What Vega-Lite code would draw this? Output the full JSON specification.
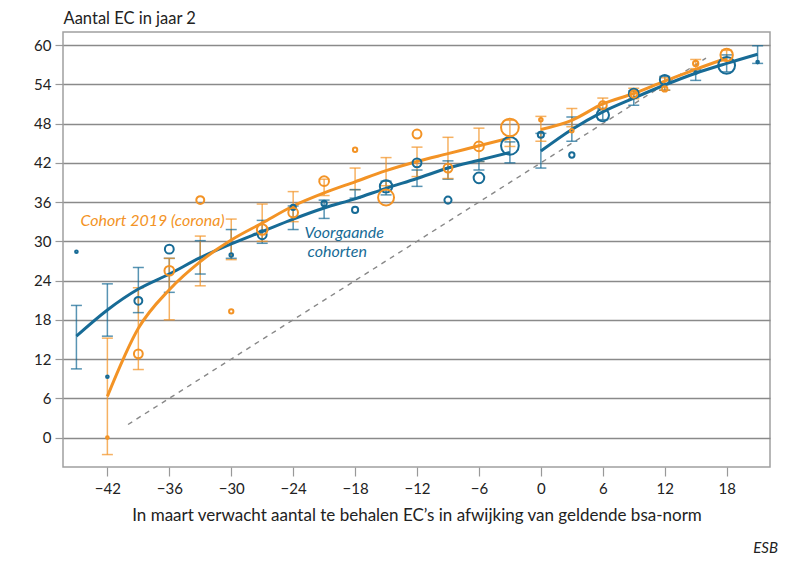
{
  "$schema": "https://vega.github.io/schema/vega-lite/v6.json",
  "width": 707,
  "height": 435,
  "autosize": "none",
  "padding": {"left": 63, "top": 32, "right": 23, "bottom": 100},
  "background": "white",
  "config": {
    "font": "Lato",
    "view": {"stroke": "#a0a0a0", "strokeWidth": 1.5}
  },
  "title": {"text": "ESB", "orient": "bottom", "anchor": "end", "fontStyle": "italic", "fontWeight": "normal", "fontSize": 15, "color": "#222", "offset": 18, "dx": 8},
  "datasets": {
    "lijn": [
      {"x": -45, "y": 15.5, "reeks": "voorgaand", "deel": "v1"},
      {"x": -42, "y": 19.5, "reeks": "voorgaand", "deel": "v1"},
      {"x": -39, "y": 22.7, "reeks": "voorgaand", "deel": "v1"},
      {"x": -36, "y": 25.0, "reeks": "voorgaand", "deel": "v1"},
      {"x": -33, "y": 27.5, "reeks": "voorgaand", "deel": "v1"},
      {"x": -30, "y": 29.6, "reeks": "voorgaand", "deel": "v1"},
      {"x": -27, "y": 31.5, "reeks": "voorgaand", "deel": "v1"},
      {"x": -24, "y": 33.4, "reeks": "voorgaand", "deel": "v1"},
      {"x": -21, "y": 35.1, "reeks": "voorgaand", "deel": "v1"},
      {"x": -18, "y": 36.5, "reeks": "voorgaand", "deel": "v1"},
      {"x": -15, "y": 38.1, "reeks": "voorgaand", "deel": "v1"},
      {"x": -12, "y": 39.6, "reeks": "voorgaand", "deel": "v1"},
      {"x": -9, "y": 41.2, "reeks": "voorgaand", "deel": "v1"},
      {"x": -6, "y": 42.4, "reeks": "voorgaand", "deel": "v1"},
      {"x": -3, "y": 43.6, "reeks": "voorgaand", "deel": "v1"},
      {"x": 0, "y": 43.8, "reeks": "voorgaand", "deel": "v2"},
      {"x": 3, "y": 47.1, "reeks": "voorgaand", "deel": "v2"},
      {"x": 6, "y": 49.8, "reeks": "voorgaand", "deel": "v2"},
      {"x": 9, "y": 51.9, "reeks": "voorgaand", "deel": "v2"},
      {"x": 12, "y": 53.9, "reeks": "voorgaand", "deel": "v2"},
      {"x": 15, "y": 55.7, "reeks": "voorgaand", "deel": "v2"},
      {"x": 18, "y": 57.2, "reeks": "voorgaand", "deel": "v2"},
      {"x": 21, "y": 58.6, "reeks": "voorgaand", "deel": "v2"},
      {"x": -42, "y": 6.3, "reeks": "corona", "deel": "c1"},
      {"x": -39, "y": 16.7, "reeks": "corona", "deel": "c1"},
      {"x": -36, "y": 22.6, "reeks": "corona", "deel": "c1"},
      {"x": -33, "y": 26.9, "reeks": "corona", "deel": "c1"},
      {"x": -30, "y": 30.2, "reeks": "corona", "deel": "c1"},
      {"x": -27, "y": 32.8, "reeks": "corona", "deel": "c1"},
      {"x": -24, "y": 35.4, "reeks": "corona", "deel": "c1"},
      {"x": -21, "y": 37.4, "reeks": "corona", "deel": "c1"},
      {"x": -18, "y": 39.1, "reeks": "corona", "deel": "c1"},
      {"x": -15, "y": 40.8, "reeks": "corona", "deel": "c1"},
      {"x": -12, "y": 42.2, "reeks": "corona", "deel": "c1"},
      {"x": -9, "y": 43.4, "reeks": "corona", "deel": "c1"},
      {"x": -6, "y": 44.6, "reeks": "corona", "deel": "c1"},
      {"x": -3, "y": 45.8, "reeks": "corona", "deel": "c1"},
      {"x": 0, "y": 47.1, "reeks": "corona", "deel": "c2"},
      {"x": 3, "y": 48.5, "reeks": "corona", "deel": "c2"},
      {"x": 6, "y": 51.0, "reeks": "corona", "deel": "c2"},
      {"x": 9, "y": 52.6, "reeks": "corona", "deel": "c2"},
      {"x": 12, "y": 54.5, "reeks": "corona", "deel": "c2"},
      {"x": 15, "y": 56.3, "reeks": "corona", "deel": "c2"},
      {"x": 18, "y": 58.0, "reeks": "corona", "deel": "c2"}
    ],
    "punten": [
      {"x": -45, "y": 28.4, "aantal": 2.25, "reeks": "voorgaand"},
      {"x": -42, "y": 9.3, "aantal": 2.25, "reeks": "voorgaand"},
      {"x": -39, "y": 20.9, "aantal": 20, "reeks": "voorgaand"},
      {"x": -36, "y": 28.8, "aantal": 25, "reeks": "voorgaand"},
      {"x": -30, "y": 27.9, "aantal": 4, "reeks": "voorgaand"},
      {"x": -27, "y": 31.0, "aantal": 25, "reeks": "voorgaand"},
      {"x": -24, "y": 35.2, "aantal": 9, "reeks": "voorgaand"},
      {"x": -21, "y": 35.8, "aantal": 9, "reeks": "voorgaand"},
      {"x": -18, "y": 34.8, "aantal": 12, "reeks": "voorgaand"},
      {"x": -15, "y": 38.4, "aantal": 49, "reeks": "voorgaand"},
      {"x": -12, "y": 42.0, "aantal": 25, "reeks": "voorgaand"},
      {"x": -9, "y": 36.3, "aantal": 16, "reeks": "voorgaand"},
      {"x": -6, "y": 39.7, "aantal": 36, "reeks": "voorgaand"},
      {"x": -3, "y": 44.6, "aantal": 100, "reeks": "voorgaand"},
      {"x": 0, "y": 46.3, "aantal": 12, "reeks": "voorgaand"},
      {"x": 3, "y": 43.2, "aantal": 9, "reeks": "voorgaand"},
      {"x": 6, "y": 49.3, "aantal": 49, "reeks": "voorgaand"},
      {"x": 9, "y": 52.6, "aantal": 30, "reeks": "voorgaand"},
      {"x": 12, "y": 54.7, "aantal": 30, "reeks": "voorgaand"},
      {"x": 15, "y": 55.8, "aantal": 2.25, "reeks": "voorgaand"},
      {"x": 18, "y": 56.9, "aantal": 90, "reeks": "voorgaand"},
      {"x": 21, "y": 57.4, "aantal": 2.25, "reeks": "voorgaand"},
      {"x": -42, "y": 0.0, "aantal": 2.25, "reeks": "corona"},
      {"x": -39, "y": 12.8, "aantal": 25, "reeks": "corona"},
      {"x": -36, "y": 25.5, "aantal": 30, "reeks": "corona"},
      {"x": -33, "y": 36.3, "aantal": 20, "reeks": "corona"},
      {"x": -30, "y": 19.3, "aantal": 6, "reeks": "corona"},
      {"x": -27, "y": 31.8, "aantal": 36, "reeks": "corona"},
      {"x": -24, "y": 34.4, "aantal": 30, "reeks": "corona"},
      {"x": -21, "y": 39.2, "aantal": 30, "reeks": "corona"},
      {"x": -18, "y": 44.0, "aantal": 6, "reeks": "corona"},
      {"x": -15, "y": 36.7, "aantal": 81, "reeks": "corona"},
      {"x": -12, "y": 46.4, "aantal": 25, "reeks": "corona"},
      {"x": -9, "y": 41.2, "aantal": 25, "reeks": "corona"},
      {"x": -6, "y": 44.5, "aantal": 30, "reeks": "corona"},
      {"x": -3, "y": 47.4, "aantal": 100, "reeks": "corona"},
      {"x": 0, "y": 48.6, "aantal": 4, "reeks": "corona"},
      {"x": 3, "y": 46.9, "aantal": 4, "reeks": "corona"},
      {"x": 6, "y": 50.8, "aantal": 20, "reeks": "corona"},
      {"x": 9, "y": 52.5, "aantal": 16, "reeks": "corona"},
      {"x": 12, "y": 53.3, "aantal": 9, "reeks": "corona"},
      {"x": 15, "y": 57.2, "aantal": 9, "reeks": "corona"},
      {"x": 18, "y": 58.5, "aantal": 49, "reeks": "corona"}
    ],
    "marges": [
      {"x": -45, "lo": 10.5, "hi": 20.2, "reeks": "voorgaand"},
      {"x": -42, "lo": 15.5, "hi": 23.5, "reeks": "voorgaand"},
      {"x": -39, "lo": 19.1, "hi": 26.0, "reeks": "voorgaand"},
      {"x": -36, "lo": 22.2, "hi": 27.4, "reeks": "voorgaand"},
      {"x": -33, "lo": 25.0, "hi": 30.1, "reeks": "voorgaand"},
      {"x": -30, "lo": 27.4, "hi": 31.8, "reeks": "voorgaand"},
      {"x": -27, "lo": 29.7, "hi": 33.2, "reeks": "voorgaand"},
      {"x": -24, "lo": 31.8, "hi": 35.4, "reeks": "voorgaand"},
      {"x": -21, "lo": 33.5, "hi": 36.3, "reeks": "voorgaand"},
      {"x": -18, "lo": 36.6, "hi": 37.9, "reeks": "voorgaand"},
      {"x": -15, "lo": 37.1, "hi": 39.2, "reeks": "voorgaand"},
      {"x": -12, "lo": 38.4, "hi": 40.9, "reeks": "voorgaand"},
      {"x": -9, "lo": 39.5, "hi": 42.3, "reeks": "voorgaand"},
      {"x": -6, "lo": 40.9, "hi": 42.2, "reeks": "voorgaand"},
      {"x": -3, "lo": 42.0, "hi": 45.2, "reeks": "voorgaand"},
      {"x": 0, "lo": 41.2, "hi": 46.5, "reeks": "voorgaand"},
      {"x": 3, "lo": 45.3, "hi": 49.0, "reeks": "voorgaand"},
      {"x": 6, "lo": 48.6, "hi": 50.3, "reeks": "voorgaand"},
      {"x": 9, "lo": 50.8, "hi": 53.0, "reeks": "voorgaand"},
      {"x": 12, "lo": 53.1, "hi": 55.2, "reeks": "voorgaand"},
      {"x": 15, "lo": 54.6, "hi": 56.2, "reeks": "voorgaand"},
      {"x": 18, "lo": 55.9, "hi": 58.5, "reeks": "voorgaand"},
      {"x": 21, "lo": 57.2, "hi": 59.9, "reeks": "voorgaand"},
      {"x": -42, "lo": -2.6, "hi": 15.2, "reeks": "corona"},
      {"x": -39, "lo": 10.4, "hi": 22.9, "reeks": "corona"},
      {"x": -36, "lo": 18.0, "hi": 27.4, "reeks": "corona"},
      {"x": -33, "lo": 23.2, "hi": 30.8, "reeks": "corona"},
      {"x": -30, "lo": 27.2, "hi": 33.4, "reeks": "corona"},
      {"x": -27, "lo": 30.0, "hi": 35.7, "reeks": "corona"},
      {"x": -24, "lo": 33.0, "hi": 37.6, "reeks": "corona"},
      {"x": -21, "lo": 37.0, "hi": 39.5, "reeks": "corona"},
      {"x": -18, "lo": 37.9, "hi": 41.2, "reeks": "corona"},
      {"x": -15, "lo": 38.5, "hi": 42.8, "reeks": "corona"},
      {"x": -12, "lo": 39.9, "hi": 44.4, "reeks": "corona"},
      {"x": -9, "lo": 39.6, "hi": 45.9, "reeks": "corona"},
      {"x": -6, "lo": 42.2, "hi": 47.3, "reeks": "corona"},
      {"x": -3, "lo": 44.5, "hi": 48.5, "reeks": "corona"},
      {"x": 0, "lo": 45.3, "hi": 49.1, "reeks": "corona"},
      {"x": 3, "lo": 47.5, "hi": 50.3, "reeks": "corona"},
      {"x": 6, "lo": 50.1, "hi": 51.9, "reeks": "corona"},
      {"x": 9, "lo": 51.8, "hi": 53.4, "reeks": "corona"},
      {"x": 12, "lo": 53.1, "hi": 55.0, "reeks": "corona"},
      {"x": 15, "lo": 56.4, "hi": 57.8, "reeks": "corona"},
      {"x": 18, "lo": 57.6, "hi": 59.2, "reeks": "corona"}
    ],
    "diagonaal": [
      {"x": -40, "y": 2},
      {"x": 16, "y": 58}
    ],
    "labels": [
      {"x": -44.6, "y": 33.1, "tekst": "Cohort 2019 (corona)", "reeks": "corona"},
      {"x": -22.9, "y": 31.2, "tekst": "Voorgaande", "reeks": "voorgaand"},
      {"x": -22.6, "y": 28.4, "tekst": "cohorten", "reeks": "voorgaand"}
    ]
  },
  "encoding": {
    "x": {
      "type": "quantitative",
      "scale": {"domain": [-46.3, 22.2], "nice": false, "zero": false},
      "axis": {
        "values": [-42, -36, -30, -24, -18, -12, -6, 0, 6, 12, 18],
        "grid": false,
        "domain": false,
        "tickSize": 9,
        "tickColor": "#999",
        "tickWidth": 1.2,
        "labelFontSize": 15,
        "labelColor": "#222",
        "labelPadding": 5,
        "title": "In maart verwacht aantal te behalen EC’s in afwijking van geldende bsa-norm",
        "titleFontSize": 17,
        "titleFontWeight": "normal",
        "titleColor": "#222",
        "titlePadding": 11
      }
    },
    "y": {
      "type": "quantitative",
      "scale": {"domain": [-4.5, 62], "nice": false, "zero": false},
      "axis": {
        "values": [0, 6, 12, 18, 24, 30, 36, 42, 48, 54, 60],
        "grid": true,
        "gridColor": "#8a8a8a",
        "gridWidth": 1.3,
        "domain": false,
        "tickSize": 8,
        "tickColor": "#999",
        "tickWidth": 1.2,
        "labelFontSize": 15,
        "labelColor": "#222",
        "labelPadding": 4,
        "title": "Aantal EC in jaar 2",
        "titleAngle": 0,
        "titleAlign": "left",
        "titleBaseline": "alphabetic",
        "titleX": 0,
        "titleY": -9,
        "titleFontSize": 16.5,
        "titleFontWeight": "normal",
        "titleColor": "#222"
      }
    }
  },
  "layer": [
    {
      "mark": {"type": "rule", "color": "#c8c8c8", "strokeWidth": 1.5, "strokeDash": [6, 5]},
      "encoding": {"x": {"datum": 0}}
    },
    {
      "data": {"name": "diagonaal"},
      "mark": {"type": "line", "color": "#888888", "strokeWidth": 1.4, "strokeDash": [5, 5]},
      "encoding": {"x": {"field": "x"}, "y": {"field": "y"}}
    },
    {
      "data": {"name": "marges"},
      "mark": {"type": "rule", "strokeWidth": 1.5, "opacity": 0.72},
      "encoding": {
        "x": {"field": "x"},
        "y": {"field": "lo"},
        "y2": {"field": "hi"},
        "color": {"field": "reeks", "type": "nominal", "scale": {"domain": ["corona", "voorgaand"], "range": ["#f39325", "#176b96"]}, "legend": null}
      }
    },
    {
      "data": {"name": "marges"},
      "mark": {"type": "tick", "orient": "horizontal", "size": 11, "thickness": 1.5, "opacity": 0.72},
      "encoding": {
        "x": {"field": "x"},
        "y": {"field": "lo"},
        "color": {"field": "reeks", "type": "nominal", "legend": null}
      }
    },
    {
      "data": {"name": "marges"},
      "mark": {"type": "tick", "orient": "horizontal", "size": 11, "thickness": 1.5, "opacity": 0.72},
      "encoding": {
        "x": {"field": "x"},
        "y": {"field": "hi"},
        "color": {"field": "reeks", "type": "nominal", "legend": null}
      }
    },
    {
      "data": {"name": "lijn"},
      "mark": {"type": "line", "strokeWidth": 3, "interpolate": "monotone"},
      "encoding": {
        "x": {"field": "x"},
        "y": {"field": "y"},
        "detail": {"field": "deel"},
        "color": {"field": "reeks", "type": "nominal", "legend": null}
      }
    },
    {
      "data": {"name": "punten"},
      "mark": {"type": "point", "filled": false, "strokeWidth": 2, "opacity": 1},
      "encoding": {
        "x": {"field": "x"},
        "y": {"field": "y"},
        "size": {"field": "aantal", "type": "quantitative", "scale": {"domain": [0, 100], "range": [0, 314]}, "legend": null},
        "color": {"field": "reeks", "type": "nominal", "legend": null}
      }
    },
    {
      "data": {"name": "labels"},
      "mark": {"type": "text", "fontStyle": "italic", "fontSize": 16, "align": "left", "baseline": "middle"},
      "encoding": {
        "x": {"field": "x"},
        "y": {"field": "y"},
        "text": {"field": "tekst"},
        "color": {"field": "reeks", "type": "nominal", "legend": null}
      }
    }
  ]
}
